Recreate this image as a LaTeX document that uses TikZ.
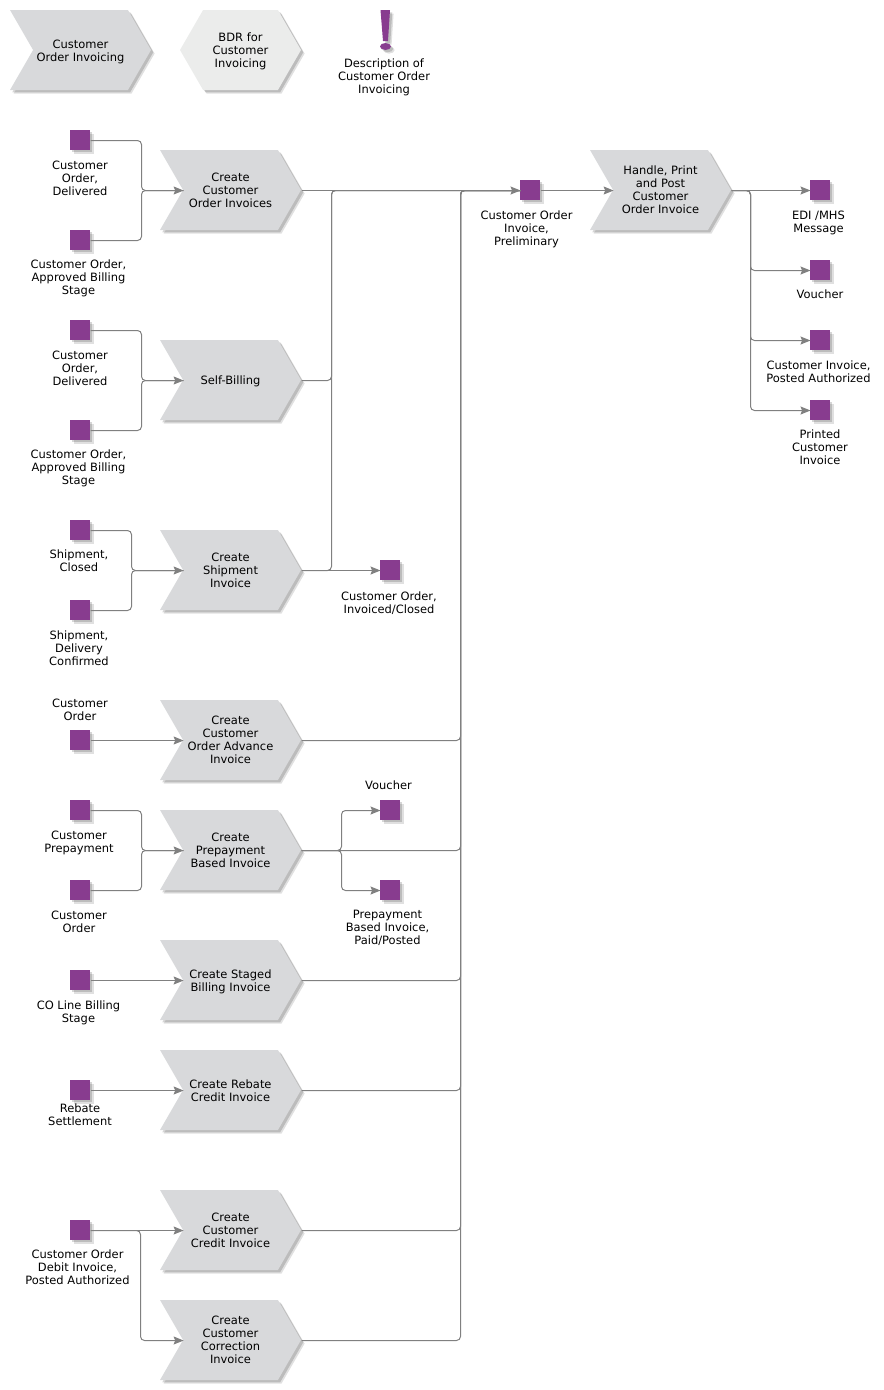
\documentclass[tikz,border=0pt]{standalone}
\usepackage{fontspec}
\setmainfont{DejaVu Sans}
\usetikzlibrary{arrows.meta,shapes.symbols,shadows}
\definecolor{funcgray}{RGB}{216,217,219}
\definecolor{bdrgray}{RGB}{235,236,235}
\definecolor{evpurple}{RGB}{136,60,143}
\definecolor{linegray}{RGB}{128,128,128}
\newcommand{\lowerA}{\rule{0pt}{8pt}}
\newcommand{\lowerB}{\rule{0pt}{9.5pt}}
\tikzset{
  softshadow/.style={drop shadow={shadow xshift=2.7pt,shadow yshift=-2.7pt,fill=black,opacity=.12},drop shadow={shadow xshift=1.7pt,shadow yshift=-1.7pt,fill=black,opacity=.16}},
  func/.style={signal,signal from=west,signal to=east,signal pointer angle=120,fill=funcgray,softshadow,minimum width=105.75pt,minimum height=60pt,inner sep=0pt,outer sep=0pt,align=center},
  bdr/.style={signal,signal to=west and east,signal pointer angle=120,fill=bdrgray,softshadow,minimum width=90.75pt,minimum height=60pt,inner sep=0pt,outer sep=0pt,align=center},
  ev/.style={fill=evpurple,softshadow,minimum size=15pt,inner sep=0pt,outer sep=0pt},
  lab/.style={align=center,inner sep=0pt},
  link/.style={draw=linegray,line width=.75pt,rounded corners=3pt,transform canvas={xshift=.375pt,yshift=-.375pt}},
  flow/.style={link,-{Stealth[length=7.5pt,width=6pt,inset=1.2pt,fill=linegray]}}
}
\begin{document}
\begin{tikzpicture}[x=.75pt,y=-.75pt,font=\fontsize{8.6pt}{9.75pt}\selectfont]
\useasboundingbox (0,0) rectangle (884,1390);

\node[func] (top) at (80.5,50) {\lowerB Customer\\Order Invoicing};
\node[bdr] (topbdr) at (240.5,50) {\lowerA BDR for\\Customer\\Invoicing};
\fill[evpurple,softshadow] (380.5,10) -- (390,10) -- (388,41) -- (383,41) -- cycle;
\fill[evpurple,softshadow] (385.5,46.5) ellipse (5.5 and 3.5);
\node[lab] (topdesc) at (384,77) {Description of\\Customer Order\\Invoicing};

\node[func] (f1) at (230.5,190) {Create\\Customer\\Order Invoices};
\node[func] (f2) at (230.5,380) {\lowerA Self-Billing};
\node[func] (f3) at (230.5,570) {Create\\Shipment\\Invoice};
\node[func] (f4) at (230.5,740) {Create\\Customer\\Order Advance\\Invoice};
\node[func] (f5) at (230.5,850) {Create\\Prepayment\\Based Invoice};
\node[func] (f6) at (230.5,980) {\lowerB Create Staged\\Billing Invoice};
\node[func] (f7) at (230.5,1090) {\lowerA Create Rebate\\Credit Invoice};
\node[func] (f8) at (230.5,1230) {Create\\Customer\\Credit Invoice};
\node[func] (f9) at (230.5,1340) {Create\\Customer\\Correction\\Invoice};
\node[func] (f10) at (660.5,190) {Handle, Print\\and Post\\Customer\\Order Invoice};

\node[ev] (e1) at (80,140) {};
\node[lab] (l1) at (80,178) {Customer\\Order,\\Delivered};
\node[ev] (e2) at (80,240) {};
\node[lab] (l2) at (78.5,278) {Customer Order,\\Approved Billing\\Stage};
\node[ev] (e3) at (80,330) {};
\node[lab] (l3) at (80,368) {Customer\\Order,\\Delivered};
\node[ev] (e4) at (80,430) {};
\node[lab] (l4) at (78.5,468) {Customer Order,\\Approved Billing\\Stage};
\node[ev] (e5) at (80,530) {};
\node[lab] (l5) at (79,560.5) {Shipment,\\Closed};
\node[ev] (e6) at (80,610) {};
\node[lab] (l6) at (79,648) {Shipment,\\Delivery\\Confirmed};
\node[ev] (e7) at (80,740) {};
\node[lab] (l7) at (80,709.5) {Customer\\Order};
\node[ev] (e8) at (80,810) {};
\node[lab] (l8) at (79,843) {Customer\\Prepayment};
\node[ev] (e9) at (80,890) {};
\node[lab] (l9) at (79,921.5) {Customer\\Order};
\node[ev] (e10) at (80,980) {};
\node[lab] (l10) at (78.5,1012.5) {CO Line Billing\\Stage};
\node[ev] (e11) at (80,1090) {};
\node[lab] (l11) at (80,1114.5) {Rebate\\Settlement};
\node[ev] (e12) at (80,1230) {};
\node[lab] (l12) at (77.5,1267) {Customer Order\\Debit Invoice,\\Posted Authorized};

\node[ev] (v1) at (390,570) {};
\node[lab] (m1) at (389,603.5) {Customer Order,\\Invoiced/Closed};
\node[ev] (v2) at (390,810) {};
\node[lab] (m2) at (388.5,785) {Voucher};
\node[ev] (v3) at (390,890) {};
\node[lab] (m3) at (387.5,928) {Prepayment\\Based Invoice,\\Paid/Posted};
\node[ev] (pre) at (530,190) {};
\node[lab] (mpre) at (526.5,229) {Customer Order\\Invoice,\\Preliminary};

\node[ev] (r1) at (820,190) {};
\node[lab] (n1) at (818.5,223) {EDI /MHS\\Message};
\node[ev] (r2) at (820,270) {};
\node[lab] (n2) at (820,294) {Voucher};
\node[ev] (r3) at (820,340) {};
\node[lab] (n3) at (818.5,371.5) {Customer Invoice,\\Posted Authorized};
\node[ev] (r4) at (820,410) {};
\node[lab] (n4) at (820,447) {Printed\\Customer\\Invoice};

\coordinate (j1) at (141,190);
\coordinate (j2) at (141,380);
\coordinate (j3) at (131,570);
\coordinate (j5) at (141,850);
\coordinate (j8) at (140,1230);
\coordinate (j9) at (140,1340);
\coordinate (k1) at (331,190);
\coordinate (k2) at (460,190);
\coordinate (k3) at (341,850);
\coordinate (k4) at (750,190);

\draw[link] (e1) -| (j1) -- (f1.west);
\draw[flow] (e2) -| (j1) -- (f1.west);
\draw[link] (e3) -| (j2) -- (f2.west);
\draw[flow] (e4) -| (j2) -- (f2.west);
\draw[link] (e5) -| (j3) -- (f3.west);
\draw[flow] (e6) -| (j3) -- (f3.west);
\draw[flow] (e7) -- (f4.west);
\draw[link] (e8) -| (j5) -- (f5.west);
\draw[flow] (e9) -| (j5) -- (f5.west);
\draw[flow] (e10) -- (f6.west);
\draw[flow] (e11) -- (f7.west);
\draw[flow] (e12) -- (f8.west);
\draw[flow] (e12) -- (j8) -- (j9) -- (f9.west);

\draw[flow] (f1.east) -- (pre);
\draw[link] (f2.east) -| (k1) -- (k2);
\draw[link] (f3.east) -| (k1) -- (k2);
\draw[flow] (f3.east) -- (v1);
\draw[link] (f4.east) -| (k2) -- (pre);
\draw[link] (f5.east) -| (k2) -- (pre);
\draw[link] (f6.east) -| (k2) -- (pre);
\draw[link] (f7.east) -| (k2) -- (pre);
\draw[link] (f8.east) -| (k2) -- (pre);
\draw[link] (f9.east) -| (k2) -- (pre);
\draw[flow] (f5.east) -- (k3) |- (v2);
\draw[flow] (f5.east) -- (k3) |- (v3);

\draw[flow] (pre) -- (f10.west);
\draw[flow] (f10.east) -- (r1);
\draw[flow] (f10.east) -- (k4) |- (r2);
\draw[flow] (f10.east) -- (k4) |- (r3);
\draw[flow] (f10.east) -- (k4) |- (r4);
\end{tikzpicture}
\end{document}
